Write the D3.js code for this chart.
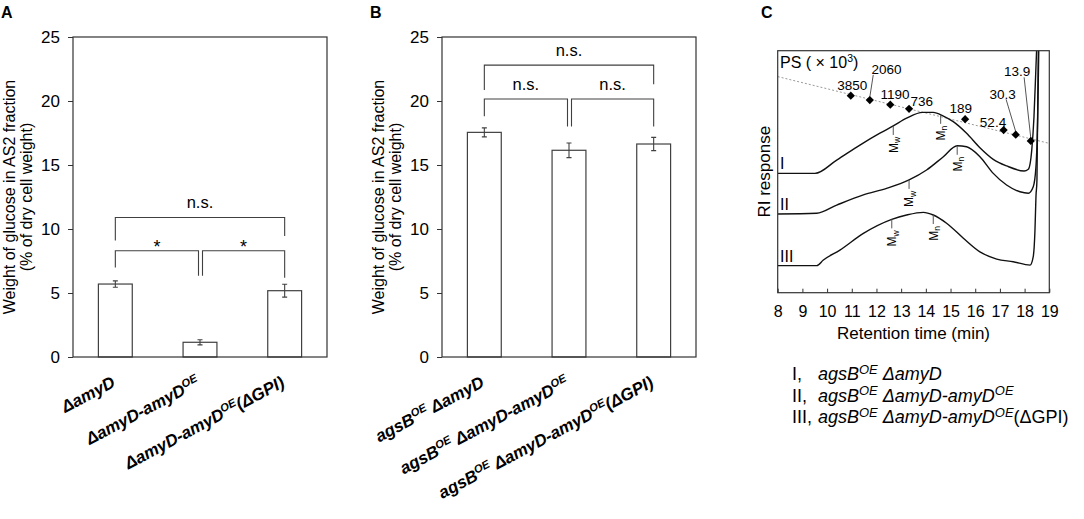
<!DOCTYPE html>
<html>
<head>
<meta charset="utf-8">
<title>AS2 glucose / GPC</title>
<script src="https://d3js.org/d3.v7.min.js"></script>
<style>
body { margin: 0; background: #fff; }
text { font-family: "Liberation Sans", Arial, sans-serif; fill: #000; }
.frame { fill: none; stroke: #333; stroke-width: 1.2px; }
.bar { fill: #fff; stroke: #404040; stroke-width: 1.2px; }
.err, .bracket { fill: none; stroke: #404040; stroke-width: 1.1px; }
.axis line { stroke: #333; }
.trace { fill: none; stroke: #111; stroke-width: 1.4px; }
.fit { fill: none; stroke: #999; stroke-width: 1px; stroke-dasharray: 2,2; }
.leader, .mtick { stroke: #555; stroke-width: 1px; }
</style>
</head>
<body>
<script>
// ---- panel A / B data
var strainsA = ["ΔamyD", "ΔamyD-amyD^OE", "ΔamyD-amyD^OE(ΔGPI)"];
var glucoseA = [5.7, 1.15, 5.18];
var errorA = [0.25, 0.2, 0.5];

var strainsB = ["agsB^OE ΔamyD", "agsB^OE ΔamyD-amyD^OE", "agsB^OE ΔamyD-amyD^OE(ΔGPI)"];
var glucoseB = [17.55, 16.15, 16.64];
var errorB = [0.35, 0.57, 0.52];

var yTicks = [0, 5, 10, 15, 20, 25];

// brackets: from, to, top, left leg end, right leg end, label
var bracketsA = [[0, 2, 10.9, 9.1, 9.45, "n.s."], [0, 1, 8.3, 7.0, 6.35, "*"], [1, 2, 8.3, 6.35, 6.2, "*"]];
var bracketsB = [[0, 2, 22.8, 20.86, 21.3, "n.s."], [0, 1, 20.16, 18.8, 18.0, "n.s."], [1, 2, 20.16, 18.0, 18.0, "n.s."]];

// ---- panel C data (retention time in min, RI response in arbitrary units)
var timeTicks = [8, 9, 10, 11, 12, 13, 14, 15, 16, 17, 18, 19];

var traceI = [[8, 49.3], [9.51, 49.3], [10.39, 54.8], [11.33, 61.0], [12.14, 65.9], [12.68, 68.9], [13.22, 72.1],
  [13.87, 74.5], [14.3, 74.5], [14.71, 73.0], [15.11, 70.7], [15.65, 65.9], [16.19, 59.9], [16.73, 55.1],
  [17.27, 52.4], [17.98, 50.3], [18.15, 51.0], [18.29, 59.0], [18.38, 72.7], [18.46, 93.4], [18.5, 104]];
var traceII = [[8, 32.5], [9.58, 32.8], [10.39, 36.2], [11.47, 40.4], [12.41, 43.1], [13.32, 46.6], [14.03, 50.7],
  [14.71, 56.2], [15.27, 60.7], [15.65, 60.3], [16.19, 56.2], [16.73, 49.3], [17.27, 44.5], [17.81, 41.7],
  [18.15, 41.1], [18.35, 43.8], [18.46, 52.1], [18.53, 72.7], [18.58, 104]];
var traceIII = [[8, 11.2], [9.58, 11.2], [9.85, 13.5], [10.52, 17.6], [11.47, 24.5], [12.62, 30.3], [13.22, 32.1],
  [13.9, 33.2], [14.3, 32.1], [14.84, 28.7], [15.52, 22.5], [16.19, 16.9], [16.87, 13.9], [17.54, 12.8],
  [18.22, 11.4], [18.35, 14.9], [18.42, 25.9], [18.46, 39.7], [18.5, 46.6], [18.56, 104]];
var traceNames = ["I", "II", "III"];

var mwTime = [12.68, 13.32, 12.62], mwSignal = [68.9, 46.6, 30.3];
var mnTime = [14.6, 15.27, 14.3], mnSignal = [73.5, 60.7, 32.1];

var psMass = ["3850", "2060", "1190", "736", "189", "52.4", "30.3", "13.9"];
var psTime = [10.96, 11.73, 12.56, 13.32, 15.59, 17.15, 17.64, 18.25];
var psSignal = [81.4, 79.6, 77.7, 76.0, 71.7, 67.2, 65.3, 62.7];
var psLabelTime = [11.02, 12.41, 12.75, 13.83, 15.41, 16.72, 17.11, 17.7];
var psLabelSignal = [85.7, 92.4, 82.1, 79.3, 76.2, 70.7, 82.1, 91.6];
// leaders: standard index, end time, end signal
var psLeaders = [[1, 11.87, 90.0], [6, 17.25, 79.9], [7, 17.98, 89.0]];
var psFit = [[8, 89.3], [19, 61.7]];

var legendNum = ["I,", "II,", "III,"];
var legendText = ["agsB^OE ΔamyD", "agsB^OE ΔamyD-amyD^OE", "agsB^OE ΔamyD-amyD^OE(ΔGPI)"];

var svg = d3.select("body").append("svg").attr("width", 1084).attr("height", 519);

// writes "^OE" as superscript; "(ΔGPI)" upright unless everything is italic
function rich(t, str, fs, allItalic, supScale) {
  var parts = str.split(/(\^OE|\(ΔGPI\))/).filter(function(s) { return s.length; });
  var back = 0;
  parts.forEach(function(p) {
    var ts = t.append("tspan");
    if (p === "^OE") {
      ts.text("OE").attr("font-size", fs * supScale).attr("dy", -fs * 0.36);
      back = fs * 0.36;
    } else {
      ts.text(p);
      if (back) { ts.attr("dy", back); back = 0; }
      if (p === "(ΔGPI)" && !allItalic) ts.attr("font-style", "normal");
    }
  });
}

function barPanel(left, right, strains, vals, errs, brackets, letter, titleX) {
  var top = 37, bottom = 357;
  var x = d3.scaleBand().domain(strains).range([left, right]).paddingInner(0.6).paddingOuter(0.3);
  var y = d3.scaleLinear().domain([0, 25]).range([bottom, top]);
  var cx = function(i) { return x(strains[i]) + x.bandwidth() / 2; };

  svg.append("text").attr("x", titleX - 7).attr("y", 18).attr("font-size", 16)
    .attr("font-weight", "bold").text(letter);

  var ax = svg.append("g").attr("class", "axis").attr("transform", "translate(" + left + ",0)")
    .call(d3.axisLeft(y).tickValues(yTicks).tickSize(5).tickPadding(8));
  ax.select(".domain").remove();
  ax.attr("font-size", 17);

  svg.selectAll(null).data(strains).enter().append("rect").attr("class", "bar")
    .attr("x", function(d) { return x(d); }).attr("width", x.bandwidth())
    .attr("y", function(d, i) { return y(vals[i]); })
    .attr("height", function(d, i) { return bottom - y(vals[i]); });

  svg.selectAll(null).data(strains).enter().append("path").attr("class", "err")
    .attr("d", function(d, i) {
      var c = cx(i), lo = y(vals[i] - errs[i]), hi = y(vals[i] + errs[i]);
      return "M" + (c - 2.5) + "," + hi + "H" + (c + 2.5) + "M" + c + "," + hi + "V" + lo +
        "M" + (c - 2.5) + "," + lo + "H" + (c + 2.5);
    });

  svg.append("rect").attr("class", "frame").attr("x", left).attr("y", top)
    .attr("width", right - left).attr("height", bottom - top);

  brackets.forEach(function(b) {
    var x1 = cx(b[0]), x2 = cx(b[1]);
    if (b[1] - b[0] === 1) {
      if (b[1] === 1) x2 -= 1.5;
      if (b[0] === 1) x1 += 2.5;
    }
    svg.append("path").attr("class", "bracket")
      .attr("d", "M" + x1 + "," + y(b[3]) + "V" + y(b[2]) + "H" + x2 + "V" + y(b[4]));
    var star = b[5] === "*";
    svg.append("text").attr("x", (x1 + x2) / 2).attr("y", star ? y(b[2]) + 2 : y(b[2]) - 9)
      .attr("text-anchor", "middle").attr("font-size", star ? 18 : 16.5).text(b[5]);
  });

  strains.forEach(function(s, i) {
    var t = svg.append("text").attr("text-anchor", "end")
      .attr("transform", "translate(" + (cx(i) + 1) + ",386) rotate(-28)")
      .attr("font-size", 17).attr("font-weight", "bold").attr("font-style", "italic");
    rich(t, s, 17, true, 0.66);
  });

  var lines = ["Weight of glucose in AS2 fraction", "(% of dry cell weight)"];
  lines.forEach(function(l, k) {
    svg.append("text").attr("text-anchor", "middle").attr("font-size", 16)
      .attr("transform", "translate(" + (titleX + 7 + k * 16.5) + "," + ((top + bottom) / 2) + ") rotate(-90)")
      .text(l);
  });
}

barPanel(73, 327, strainsA, glucoseA, errorA, bracketsA, "A", 8);
barPanel(442, 696, strainsB, glucoseB, errorB, bracketsB, "B", 377);

// ---- panel C
var cl = 777.7, cr = 1049.3, ct = 50.7, cb = 292.7;
var xt = d3.scaleLinear().domain([8, 19]).range([cl, cr]);
var ys = d3.scaleLinear().domain([0, 100]).range([cb, ct]);

svg.append("text").attr("x", 761).attr("y", 18).attr("font-size", 16).attr("font-weight", "bold").text("C");

svg.append("clipPath").attr("id", "clipC").append("rect")
  .attr("x", cl).attr("y", ct).attr("width", cr - cl).attr("height", cb - ct);
var pc = svg.append("g").attr("clip-path", "url(#clipC)");

var line = d3.line().x(function(d) { return xt(d[0]); }).y(function(d) { return ys(d[1]); });
pc.append("path").attr("class", "fit").attr("d", line(psFit));

var smooth = d3.line().curve(d3.curveMonotoneX)
  .x(function(d) { return xt(d[0]); }).y(function(d) { return ys(d[1]); });
[traceI, traceII, traceIII].forEach(function(tr, k) {
  pc.append("path").attr("class", "trace").attr("d", smooth(tr));
  svg.append("text").attr("x", 780).attr("y", ys(tr[0][1]) - 4).attr("font-size", 16).text(traceNames[k]);
});

// Mw / Mn marks
function avgMark(t, s, sub) {
  svg.append("line").attr("class", "mtick").attr("x1", xt(t)).attr("x2", xt(t))
    .attr("y1", ys(s)).attr("y2", ys(s) + 9);
  var tx = svg.append("text").attr("text-anchor", "end").attr("font-size", 12)
    .attr("transform", "translate(" + (xt(t) + 4.3) + "," + (ys(s) + 11) + ") rotate(-90)");
  tx.append("tspan").text("M");
  tx.append("tspan").attr("font-size", 8.5).attr("dy", 2.5).text(sub);
}
mwTime.forEach(function(t, i) { avgMark(t, mwSignal[i], "w"); });
mnTime.forEach(function(t, i) { avgMark(t, mnSignal[i], "n"); });

// PS standards
psLeaders.forEach(function(l) {
  svg.append("line").attr("class", "leader")
    .attr("x1", xt(psTime[l[0]])).attr("y1", ys(psSignal[l[0]]) - 3)
    .attr("x2", xt(l[1])).attr("y2", ys(l[2]));
});
svg.selectAll(null).data(psMass).enter().append("path")
  .attr("d", d3.symbol().type(d3.symbolSquare).size(34))
  .attr("transform", function(d, i) { return "translate(" + xt(psTime[i]) + "," + ys(psSignal[i]) + ") rotate(45)"; })
  .attr("fill", "#000");
svg.selectAll(null).data(psMass).enter().append("text")
  .attr("x", function(d, i) { return xt(psLabelTime[i]); })
  .attr("y", function(d, i) { return ys(psLabelSignal[i]) + 5; })
  .attr("text-anchor", "middle").attr("font-size", 13.5).text(function(d) { return d; });

var ps = svg.append("text").attr("x", 780).attr("y", 68).attr("font-size", 16);
ps.append("tspan").text("PS ( × 10");
ps.append("tspan").attr("font-size", 10.5).attr("dy", -6).text("3");
ps.append("tspan").attr("dy", 6).text(")");

svg.append("rect").attr("class", "frame").attr("x", cl).attr("y", ct)
  .attr("width", cr - cl).attr("height", cb - ct);

var axC = svg.append("g").attr("class", "axis").attr("transform", "translate(0," + cb + ")")
  .call(d3.axisBottom(xt).tickValues(timeTicks).tickSizeInner(-4).tickSizeOuter(0).tickPadding(13));
axC.select(".domain").remove();
axC.attr("font-size", 16);

svg.append("text").attr("x", (cl + cr) / 2).attr("y", 339).attr("text-anchor", "middle")
  .attr("font-size", 17).text("Retention time (min)");
svg.append("text").attr("text-anchor", "middle").attr("font-size", 17)
  .attr("transform", "translate(770," + ((ct + cb) / 2) + ") rotate(-90)").text("RI response");

// legend
legendNum.forEach(function(n, i) {
  var yy = 380 + i * 21.5;
  svg.append("text").attr("x", 792).attr("y", yy).attr("font-size", 18).text(n);
  var t = svg.append("text").attr("x", 818).attr("y", yy).attr("font-size", 18).attr("font-style", "italic");
  rich(t, legendText[i], 18, false, 0.72);
});
</script>
</body>
</html>
